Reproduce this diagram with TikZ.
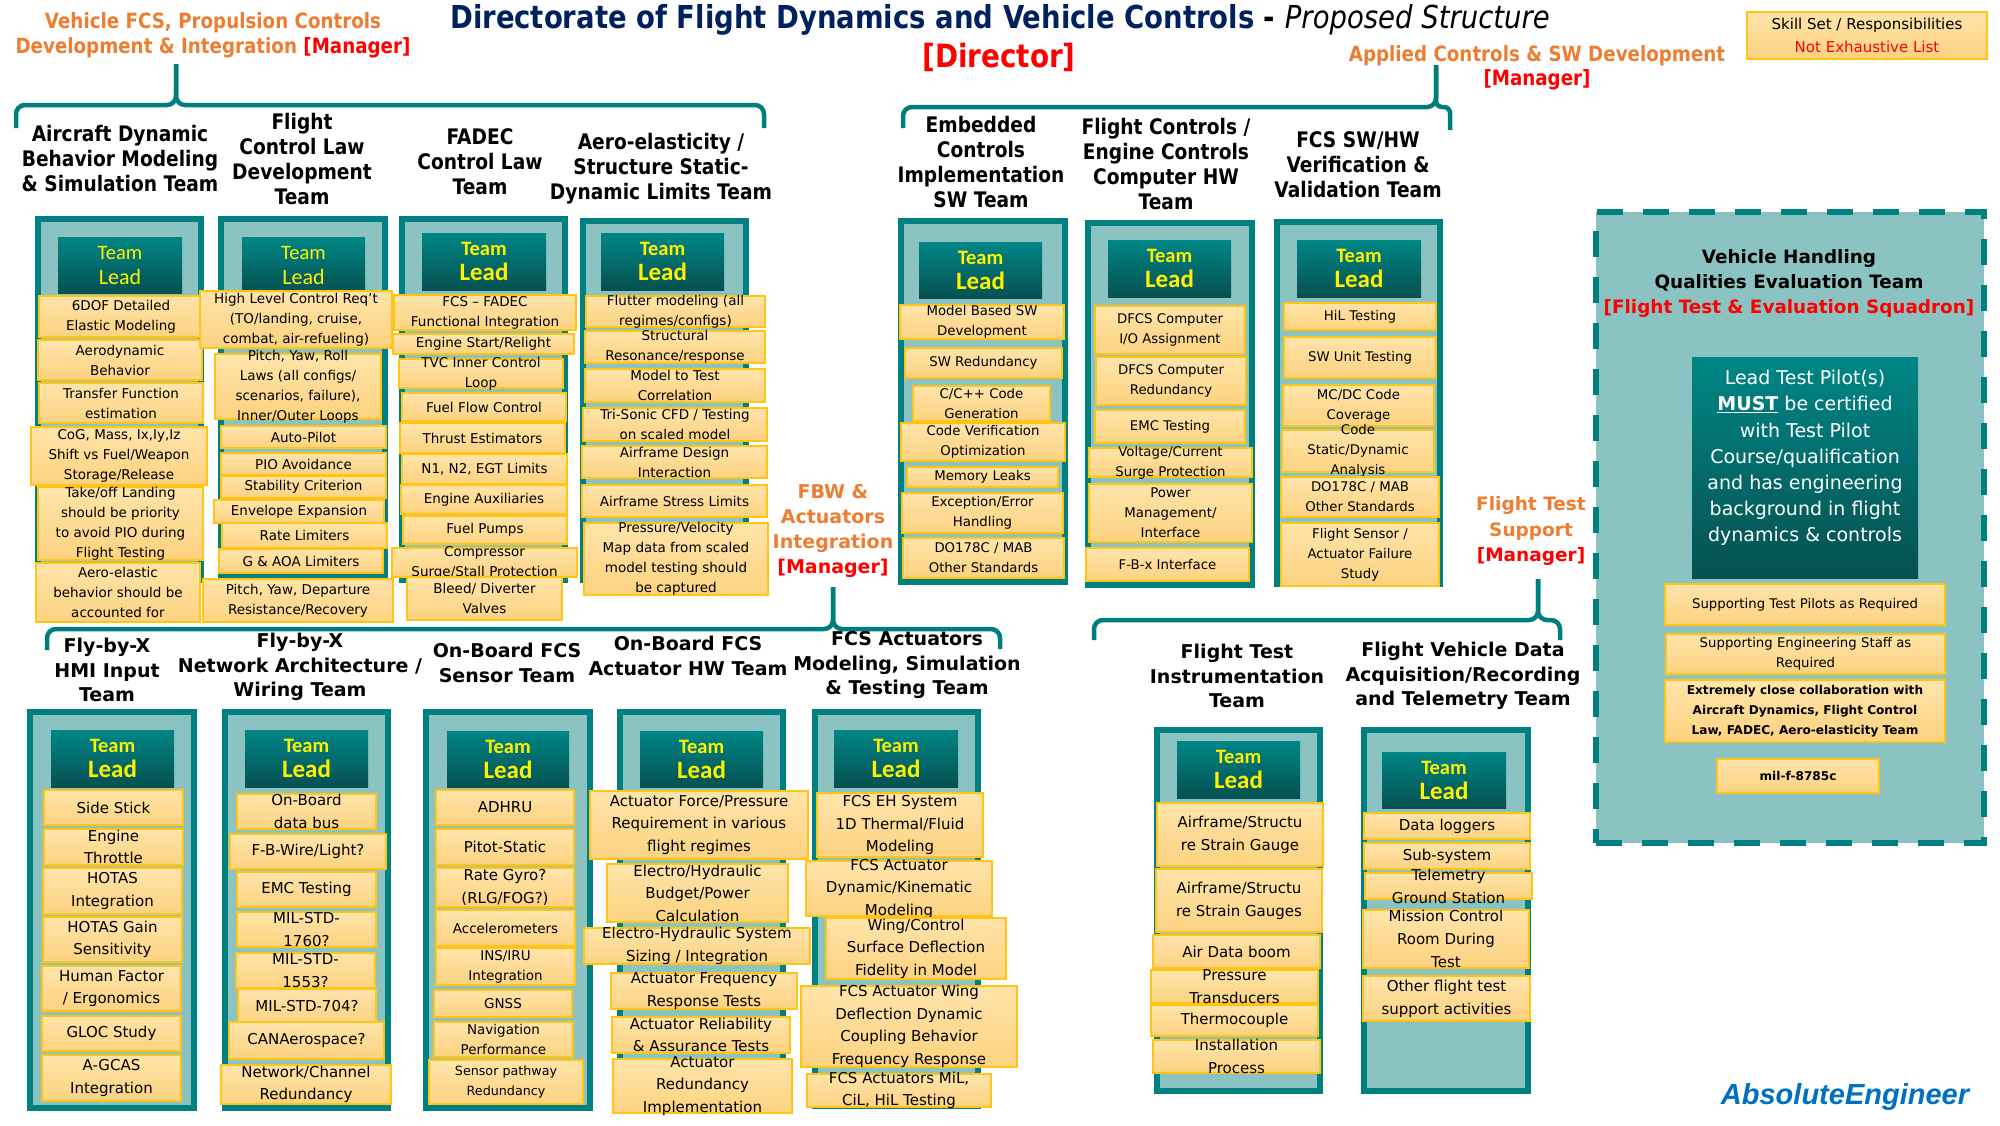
\documentclass[tikz,border=0pt]{standalone}
\usepackage{fontspec}
\setmainfont{DejaVu Sans}
\newfontfamily\tahfont[FakeStretch=0.87]{DejaVu Sans}
\newfontfamily\calfont{Carlito}
\newfontfamily\arialfont{Liberation Sans}
\definecolor{tealD}{RGB}{0,128,128}
\definecolor{tealL}{RGB}{139,195,195}
\definecolor{leadT}{RGB}{0,134,134}
\definecolor{leadB}{RGB}{6,80,80}
\definecolor{itT}{RGB}{255,228,170}
\definecolor{itB}{RGB}{252,210,128}
\definecolor{itE}{RGB}{255,196,20}
\definecolor{orng}{RGB}{237,125,49}
\definecolor{navy}{RGB}{0,32,96}
\definecolor{brkC}{RGB}{0,125,125}
\definecolor{aeblue}{RGB}{0,112,192}
\newcommand\teambx[5]{\node[teambox,minimum width={(#4)-(#2)-6},minimum height={(#5)-(#3)-6}] (#1) at ({((#2)+(#4))/2},{((#3)+(#5))/2}) {};}
\newcommand\itm[7]{\node[itembox,minimum width={(#5)-(#3)},minimum height={(#6)-(#4)}] (#2) at ({((#3)+(#5))/2},{((#4)+(#6))/2}) {};\node[#1] (#2t) at (#2.center) {#7};}
\newcommand\leadbx[7]{\node[leadbox,minimum width={(#4)-(#2)},minimum height={(#5)-(#3)}] (#1) at ({((#2)+(#4))/2},{((#3)+(#5))/2}) {};\node[txt,text=yellow,font=\calfont#6\fontsize{20.5}{25}\selectfont] (#1t) at (#1.center) {Team\\{\fontsize{#7}{25}\selectfont Lead}};}
\begin{document}
\begin{tikzpicture}[x=1pt,y=-1pt,
 teambox/.style={draw=tealD,line width=6pt,fill=tealL,inner sep=0pt,outer sep=0pt},
 leadbox/.style={top color=leadT,bottom color=leadB,draw=none,inner sep=0pt},
 itembox/.style={draw=itE,line width=1.4pt,top color=itT,bottom color=itB,inner sep=0pt},
 txt/.style={align=center,inner sep=0pt,text=black},
 itA/.style={txt,font=\fontsize{13.5}{20}\selectfont},
 itS/.style={txt,font=\fontsize{13.3}{20}\selectfont},
 itX/.style={txt,font=\fontsize{12.7}{20}\selectfont},
 itB/.style={txt,font=\fontsize{15}{22.5}\selectfont},
 itC/.style={txt,font=\fontsize{15}{23}\selectfont},
 itV/.style={txt,font=\fontsize{13.3}{19.5}\selectfont},
 itVb/.style={txt,font=\bfseries\fontsize{12.1}{20}\selectfont},
 ttl/.style={txt,font=\tahfont\bfseries\fontsize{21.4}{25}\selectfont},
 btl/.style={txt,font=\bfseries\fontsize{19}{24.5}\selectfont},
 brk/.style={draw=brkC,line width=4.5pt,rounded corners=9pt}]
\fill[white] (0,0) rectangle (2000,1125);
\useasboundingbox (0,0) rectangle (2000,1125);

% ---------- titles ----------
\node[txt,font=\tahfont\bfseries\fontsize{31.6}{36}\selectfont,text=navy] (title) at (1000,20) {Directorate of Flight Dynamics and Vehicle Controls {\color{black}- \mdseries\itshape Proposed Structure}};
\node[txt,font=\tahfont\bfseries\fontsize{32}{36}\selectfont,text=red] (director) at (999,57) {[Director]};
\itm{txt,font=\fontsize{15}{23}\selectfont}{legend}{1747}{12}{1987}{59}{Skill Set / Responsibilities\\{\color{red}Not Exhaustive List}}
\node[txt,font=\tahfont\bfseries\fontsize{21}{25}\selectfont,text=orng] (mTL) at (213,35) {Vehicle FCS, Propulsion Controls\\Development \& Integration {\color{red}[Manager]}};
\node[txt,font=\tahfont\bfseries\fontsize{21}{24}\selectfont,text=orng] (mTR) at (1537,68) {Applied Controls \& SW Development\\{\color{red}[Manager]}};
\node[txt,font=\bfseries\fontsize{19}{25}\selectfont,text=orng] (mFBW) at (833,531) {FBW \&\\Actuators\\Integration\\{\color{red}[Manager]}};
\node[txt,font=\bfseries\fontsize{18.5}{25.5}\selectfont,text=orng] (mFTS) at (1531,531) {Flight Test\\Support\\{\color{red}[Manager]}};
\node[txt,font=\arialfont\bfseries\itshape\fontsize{29}{32}\selectfont,text=aeblue] (ae) at (1845,1097) {AbsoluteEngineer};

% ---------- brackets ----------
\coordinate (tlA) at (16,128); \coordinate (tlB) at (764,128); \coordinate (tlS) at (176,105); \coordinate (tlT) at (176,64);
\draw[brk] (tlA) |- (tlS) -- (tlT);
\draw[brk] (tlB) |- (tlS) -- (tlT);
\coordinate (trA) at (903,128); \coordinate (trB) at (1450,130); \coordinate (trS) at (1436,107); \coordinate (trT) at (1436,65);
\draw[brk] (trA) |- (trS) -- (trT);
\draw[brk,rounded corners=6pt] (trB) |- (trS) -- (trT);
\coordinate (blA) at (47,650); \coordinate (blB) at (1000,649); \coordinate (blS) at (833,629); \coordinate (blT) at (833,587);
\draw[brk] (blA) |- (blS) -- (blT);
\draw[brk] (blB) |- (blS) -- (blT);
\coordinate (brA) at (1094,640); \coordinate (brB) at (1560,640); \coordinate (brS) at (1538,620); \coordinate (brT) at (1538,579);
\draw[brk] (brA) |- (brS) -- (brT);
\draw[brk] (brB) |- (brS) -- (brT);

% ---------- team titles ----------
\node[ttl] (tt1) at (120,159) {Aircraft Dynamic\\Behavior Modeling\\\& Simulation Team};
\node[ttl] (tt2) at (302,159) {Flight\\Control Law\\Development\\Team};
\node[ttl] (tt3) at (480,162) {FADEC\\Control Law\\Team};
\node[ttl] (tt4) at (661,169) {Aero-elasticity /\\Structure Static-\\Dynamic Limits Team};
\node[ttl] (tt5) at (981,162) {Embedded\\Controls\\Implementation\\SW Team};
\node[ttl] (tt6) at (1166,164) {Flight Controls /\\Engine Controls\\Computer HW\\Team};
\node[ttl] (tt7) at (1358,165) {FCS SW/HW\\Verification \&\\Validation Team};
\node[btl] (bt1) at (107,670) {Fly-by-X\\HMI Input\\Team};
\node[btl] (bt2) at (300,667) {Fly-by-X\\Network Architecture /\\Wiring Team};
\node[btl] (bt3) at (507,663) {On-Board FCS\\Sensor Team};
\node[btl] (bt4) at (688,656) {On-Board FCS\\Actuator HW Team};
\node[btl] (bt5) at (907,665) {FCS Actuators\\Modeling, Simulation\\\& Testing Team};
\node[btl] (bt6) at (1237,676) {Flight Test\\Instrumentation\\Team};
\node[btl] (bt7) at (1463,676) {Flight Vehicle Data\\Acquisition/Recording\\and Telemetry Team};

% ---------- team boxes ----------
\teambx{T1}{35}{216}{204}{583}
\teambx{T2}{218}{216}{388}{578}
\teambx{T3}{399}{216}{568}{583}
\teambx{T4}{580}{218}{749}{583}
\teambx{T5}{898}{218}{1068}{585}
\teambx{T6}{1085}{220}{1255}{588}
\teambx{T7}{1274}{219}{1443}{587}
\teambx{B1}{27}{709}{197}{1111}
\teambx{B2}{222}{709}{391}{1111}
\teambx{B3}{423}{709}{593}{1111}
\teambx{B4}{617}{709}{786}{1111}
\teambx{B5}{812}{709}{981}{1109}
\teambx{B6}{1154}{727}{1323}{1094}
\teambx{B7}{1361}{727}{1531}{1094}
\node[teambox,dash pattern=on 26pt off 20pt,minimum width=388,minimum height=631] (VH) at (1790,527.5) {};

% ---------- leads ----------
\leadbx{L1}{58}{237}{182}{293}{\mdseries}{22}
\leadbx{L2}{242}{237}{365}{293}{\mdseries}{22}
\leadbx{L3}{422}{233}{546}{290}{\bfseries}{25}
\leadbx{L4}{601}{233}{724}{290}{\bfseries}{25}
\leadbx{L5}{919}{242}{1042}{298}{\bfseries}{25}
\leadbx{L6}{1108}{240}{1231}{297}{\bfseries}{25}
\leadbx{L7}{1297}{240}{1421}{297}{\bfseries}{25}
\leadbx{LB1}{51}{730}{174}{787}{\bfseries}{25}
\leadbx{LB2}{245}{730}{368}{787}{\bfseries}{25}
\leadbx{LB3}{447}{731}{569}{787}{\bfseries}{25}
\leadbx{LB4}{640}{731}{763}{787}{\bfseries}{25}
\leadbx{LB5}{834}{730}{958}{787}{\bfseries}{25}
\leadbx{LB6}{1177}{741}{1300}{798}{\bfseries}{25}
\leadbx{LB7}{1382}{752}{1506}{808}{\bfseries}{25}

% ---------- column 1 ----------
\itm{itA}{a1}{39}{296}{203}{337}{6DOF Detailed\\Elastic Modeling}
\itm{itA}{a2}{38}{340}{202}{380}{Aerodynamic\\Behavior}
\itm{itA}{a3}{39}{383}{203}{423}{Transfer Function\\estimation}
\itm{itA}{a4}{31}{427}{207}{485}{CoG, Mass, Ix,Iy,Iz\\Shift vs Fuel/Weapon\\Storage/Release}
\itm{itA}{a5}{38}{487}{203}{560}{Take/off Landing\\should be priority\\to avoid PIO during\\Flight Testing}
\itm{itA}{a6}{36}{563}{200}{622}{Aero-elastic\\behavior should be\\accounted for}
% ---------- column 2 ----------
\itm{itA}{b1}{200}{291}{392}{348}{High Level Control Req’t\\(TO/landing, cruise,\\combat, air-refueling)}
\itm{itA}{b2}{215}{354}{381}{419}{Pitch, Yaw, Roll\\Laws (all configs/\\scenarios, failure),\\Inner/Outer Loops}
\itm{itA}{b3}{221}{426}{386}{448}{Auto-Pilot}
\itm{itA}{b4}{221}{453}{386}{475}{PIO Avoidance}
\itm{itA}{b5}{221}{476}{386}{498}{Stability Criterion}
\itm{itA}{b6}{214}{500}{384}{523}{Envelope Expansion}
\itm{itA}{b7}{222}{523}{387}{548}{Rate Limiters}
\itm{itA}{b8}{219}{549}{383}{573}{G \& AOA Limiters}
\itm{itA}{b9}{203}{579}{393}{622}{Pitch, Yaw, Departure\\Resistance/Recovery}
% ---------- column 3 ----------
\itm{itA}{c1}{394}{295}{576}{330}{FCS – FADEC\\Functional Integration}
\itm{itA}{c2}{393}{334}{574}{354}{Engine Start/Relight}
\itm{itA}{c3}{399}{359}{563}{388}{TVC Inner Control\\Loop}
\itm{itA}{c4}{402}{393}{566}{421}{Fuel Flow Control}
\itm{itA}{c5}{400}{423}{565}{453}{Thrust Estimators}
\itm{itA}{c6}{402}{454}{567}{484}{N1, N2, EGT Limits}
\itm{itA}{c7}{401}{485}{567}{514}{Engine Auxiliaries}
\itm{itA}{c8}{403}{516}{567}{544}{Fuel Pumps}
\itm{itA}{c9}{392}{548}{577}{577}{Compressor\\Surge/Stall  Protection}
\itm{itA}{c10}{407}{577}{562}{620}{Bleed/ Diverter\\Valves}
% ---------- column 4 ----------
\itm{itA}{d1}{586}{296}{765}{327}{Flutter modeling (all\\regimes/configs)}
\itm{itA}{d2}{585}{331}{765}{363}{Structural\\Resonance/response}
\itm{itA}{d3}{585}{369}{765}{402}{Model to Test\\Correlation}
\itm{itA}{d4}{583}{408}{767}{441}{Tri-Sonic CFD / Testing\\on scaled model}
\itm{itA}{d5}{582}{446}{767}{478}{Airframe Design\\Interaction}
\itm{itA}{d6}{582}{485}{767}{517}{Airframe Stress Limits}
\itm{itA}{d7}{584}{523}{768}{595}{Pressure/Velocity\\Map data from scaled\\model testing should\\be captured}
% ---------- column 5 ----------
\itm{itS}{e1}{900}{305}{1064}{339}{Model Based SW\\Development}
\itm{itS}{e2}{905}{348}{1062}{378}{SW Redundancy}
\itm{itS}{e3}{913}{386}{1050}{421}{C/C++ Code\\Generation}
\itm{itS}{e4}{901}{423}{1065}{461}{Code Verification\\Optimization}
\itm{itS}{e5}{907}{467}{1058}{487}{Memory Leaks}
\itm{itS}{e6}{902}{493}{1063}{533}{Exception/Error\\Handling}
\itm{itS}{e7}{903}{538}{1064}{578}{DO178C / MAB\\Other Standards}
% ---------- column 6 ----------
\itm{itS}{f1}{1095}{306}{1245}{354}{DFCS Computer\\I/O Assignment}
\itm{itS}{f2}{1096}{357}{1246}{405}{DFCS Computer\\Redundancy}
\itm{itS}{f3}{1095}{410}{1245}{443}{EMC Testing}
\itm{itS}{f4}{1089}{448}{1252}{477}{Voltage/Current\\Surge Protection}
\itm{itS}{f5}{1089}{484}{1252}{542}{Power\\Management/\\Interface}
\itm{itS}{f6}{1086}{548}{1249}{581}{F-B-x Interface}
% ---------- column 7 ----------
\itm{itS}{g1}{1284}{303}{1436}{330}{HiL Testing}
\itm{itS}{g2}{1284}{337}{1436}{378}{SW Unit Testing}
\itm{itS}{g3}{1283}{385}{1434}{426}{MC/DC Code\\Coverage}
\itm{itS}{g4}{1282}{430}{1434}{472}{Code\\Static/Dynamic\\Analysis}
\itm{itS}{g5}{1281}{477}{1439}{517}{DO178C / MAB\\Other Standards}
\itm{itS}{g6}{1281}{523}{1439}{586}{Flight Sensor /\\Actuator Failure\\Study}
% ---------- bottom column 1 ----------
\itm{itB}{h1}{44}{790}{183}{825}{Side Stick}
\itm{itB}{h2}{44}{829}{183}{865}{Engine\\Throttle}
\itm{itB}{h3}{43}{868}{182}{914}{HOTAS\\Integration}
\itm{itB}{h4}{43}{917}{182}{962}{HOTAS Gain\\Sensitivity}
\itm{itB}{h5}{42}{966}{181}{1011}{Human Factor\\/ Ergonomics}
\itm{itB}{h6}{42}{1016}{181}{1051}{GLOC Study}
\itm{itB}{h7}{42}{1055}{181}{1101}{A-GCAS\\Integration}
% ---------- bottom column 2 ----------
\itm{itB}{i1}{237}{794}{376}{829}{On-Board\\data bus}
\itm{itB}{i2}{230}{834}{386}{869}{F-B-Wire/Light?}
\itm{itB}{i3}{237}{872}{376}{907}{EMC Testing}
\itm{itB}{i4}{237}{912}{376}{947}{MIL-STD-\\1760?}
\itm{itB}{i5}{236}{953}{375}{988}{MIL-STD-\\1553?}
\itm{itB}{i6}{238}{989}{376}{1024}{MIL-STD-704?}
\itm{itB}{i7}{229}{1022}{384}{1059}{CANAerospace?}
\itm{itB}{i8}{221}{1065}{391}{1104}{Network/Channel\\Redundancy}
% ---------- bottom column 3 ----------
\itm{itB}{j1}{436}{790}{574}{825}{ADHRU}
\itm{itB}{j2}{436}{829}{574}{865}{Pitot-Static}
\itm{itB}{j3}{436}{868}{574}{907}{Rate Gyro?\\(RLG/FOG?)}
\itm{itA}{j4}{436}{910}{575}{946}{Accelerometers}
\itm{itA}{j5}{436}{948}{575}{985}{INS/IRU\\Integration}
\itm{itA}{j6}{434}{990}{572}{1017}{GNSS}
\itm{itA}{j7}{434}{1022}{573}{1057}{Navigation\\Performance}
\itm{itX}{j8}{429}{1060}{583}{1104}{Sensor pathway\\Redundancy}
% ---------- bottom column 4 ----------
\itm{itB}{k1}{590}{791}{808}{859}{Actuator Force/Pressure\\Requirement in various\\flight regimes}
\itm{itB}{k2}{607}{864}{788}{922}{Electro/Hydraulic\\Budget/Power\\Calculation}
\itm{itB}{k3}{584}{928}{810}{964}{Electro-Hydraulic System\\Sizing / Integration}
\itm{itB}{k4}{611}{973}{797}{1009}{Actuator Frequency\\Response Tests}
\itm{itB}{k5}{612}{1017}{790}{1053}{Actuator Reliability\\\& Assurance Tests}
\itm{itB}{k6}{613}{1059}{792}{1113}{Actuator\\Redundancy\\Implementation}
% ---------- bottom column 5 ----------
\itm{itB}{l1}{817}{793}{983}{857}{FCS EH System\\1D Thermal/Fluid\\Modeling}
\itm{itB}{l2}{806}{861}{992}{916}{FCS Actuator\\Dynamic/Kinematic\\Modeling}
\itm{itB}{l3}{826}{918}{1006}{979}{Wing/Control\\Surface Deflection\\Fidelity in Model}
\itm{itB}{l4}{801}{986}{1017}{1067}{FCS Actuator Wing\\Deflection Dynamic\\Coupling Behavior\\Frequency Response}
\itm{itB}{l5}{807}{1074}{991}{1107}{FCS Actuators MiL,\\CiL, HiL Testing}
% ---------- bottom column 6 ----------
\itm{itC}{m1}{1157}{803}{1323}{866}{Airframe/Structu\\re Strain Gauge}
\itm{itC}{m2}{1156}{869}{1322}{932}{Airframe/Structu\\re Strain Gauges}
\itm{itC}{m3}{1153}{935}{1320}{968}{Air Data boom}
\itm{itC}{m4}{1151}{970}{1318}{1003}{Pressure\\Transducers}
\itm{itC}{m5}{1151}{1005}{1318}{1036}{Thermocouple}
\itm{itC}{m6}{1153}{1040}{1320}{1073}{Installation\\Process}
% ---------- bottom column 7 ----------
\itm{itC}{n1}{1364}{813}{1530}{839}{Data loggers}
\itm{itC}{n2}{1364}{843}{1530}{869}{Sub-system}
\itm{itC}{n3}{1365}{873}{1532}{899}{Telemetry\\Ground Station}
\itm{itC}{n4}{1363}{910}{1529}{968}{Mission Control\\Room During\\Test}
\itm{itC}{n5}{1363}{976}{1530}{1021}{Other flight test\\support activities}

% ---------- vehicle handling ----------
\node[txt,font=\bfseries\fontsize{18.4}{25}\selectfont] (vht) at (1789,283) {Vehicle Handling\\Qualities Evaluation Team\\{\color{red}[Flight Test \& Evaluation Squadron]}};
\node[leadbox,minimum width=226,minimum height=221] (LTP) at (1805,467.5) {};
\node[txt,text=white,font=\fontsize{19}{26.2}\selectfont] (LTPt) at (1805,458) {Lead Test Pilot(s)\\\underline{\textbf{MUST}} be certified\\with Test Pilot\\Course/qualification\\and has engineering\\background in flight\\dynamics \& controls};
\itm{itV}{v1}{1665}{584}{1945}{625}{Supporting Test Pilots as Required}
\itm{itV}{v2}{1666}{634}{1945}{674}{Supporting Engineering Staff as\\Required}
\itm{itVb}{v3}{1665}{680}{1945}{742}{Extremely close collaboration with\\Aircraft Dynamics, Flight Control\\Law, FADEC, Aero-elasticity Team}
\itm{itVb}{v4}{1717}{759}{1879}{793}{mil-f-8785c}
\end{tikzpicture}
\end{document}
